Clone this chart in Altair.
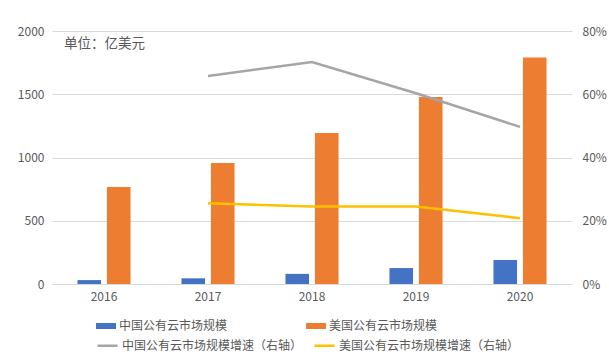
import altair as alt
import pandas as pd

years = ["2016", "2017", "2018", "2019", "2020"]
cn_size_name = "中国公有云市场规模"
us_size_name = "美国公有云市场规模"
cn_growth_name = "中国公有云市场规模增速（右轴）"
us_growth_name = "美国公有云市场规模增速（右轴）"
unit_label = "单位：亿美元"

china_size = [31, 45, 80, 126, 190]
us_size = [767, 957, 1194, 1478, 1790]

growth_years = ["2017", "2018", "2019", "2020"]
china_growth = [0.658, 0.702, 0.603, 0.497]
us_growth = [0.255, 0.245, 0.245, 0.208]

left_ticks = [0, 500, 1000, 1500, 2000]
right_ticks = [0, 0.2, 0.4, 0.6, 0.8]

FONT = "Noto Sans CJK SC"
TXT = "#595959"

bars_df = pd.DataFrame({
    "year": years * 2,
    "series": [cn_size_name] * len(years) + [us_size_name] * len(years),
    "value": china_size + us_size,
})
lines_df = pd.DataFrame({
    "year": growth_years * 2,
    "series": [cn_growth_name] * len(growth_years) + [us_growth_name] * len(growth_years),
    "growth": china_growth + us_growth,
})
unit_df = pd.DataFrame({"t": [unit_label]})

x_enc = alt.X(
    "year:N", sort=years,
    scale=alt.Scale(paddingInner=0, paddingOuter=0),
    axis=alt.Axis(title=None, labelAngle=0, ticks=False, domain=True,
                  domainColor="#D9D9D9", labelPadding=7, grid=False),
)

bars = alt.Chart(bars_df).mark_bar().encode(
    x=x_enc,
    xOffset=alt.XOffset("series:N", sort=[cn_size_name, us_size_name],
                        scale=alt.Scale(paddingInner=0.2, paddingOuter=0.864)),
    y=alt.Y("value:Q", scale=alt.Scale(domain=[0, 2000]),
            axis=alt.Axis(title=None, values=left_ticks, format="d", grid=True,
                          gridColor="#D9D9D9", domain=False, ticks=False, labelPadding=8)),
    color=alt.Color(
        "series:N", sort=[cn_size_name, us_size_name],
        scale=alt.Scale(domain=[cn_size_name, us_size_name], range=["#4472C4", "#ED7D31"]),
        legend=alt.Legend(title=None, orient="none", legendX=44, legendY=285, columns=2,
                          columnPadding=78, symbolType="M-1,-0.3H1V0.3H-1Z", symbolSize=400,
                          symbolStrokeWidth=0, labelOffset=3, padding=0, labelLimit=300),
    ),
)

lines = alt.Chart(lines_df).mark_line(strokeWidth=2.5).encode(
    x=x_enc,
    y=alt.Y("growth:Q", scale=alt.Scale(domain=[0, 0.8]),
            axis=alt.Axis(orient="right", format=".0%", values=right_ticks, grid=False,
                          domain=False, ticks=False, labelPadding=10, title=None)),
    stroke=alt.Stroke(
        "series:N", sort=[cn_growth_name, us_growth_name],
        scale=alt.Scale(domain=[cn_growth_name, us_growth_name], range=["#A5A5A5", "#FFC000"]),
        legend=alt.Legend(title=None, orient="none", legendX=44, legendY=303, columns=2,
                          columnPadding=6, symbolType="stroke", symbolSize=400,
                          symbolStrokeWidth=2.5, labelOffset=3, padding=0, labelLimit=300),
    ),
)

unit = alt.Chart(unit_df).mark_text(
    align="left", baseline="middle", fontSize=13.5, font=FONT, color=TXT
).encode(x=alt.value(12), y=alt.value(13), text="t:N")

chart = alt.layer(bars, lines, unit).resolve_scale(y="independent").properties(
    width=520, height=253,
    autosize=alt.AutoSizeParams(type="none"),
    padding={"left": 52, "top": 31, "right": 37, "bottom": 72},
).configure_view(stroke=None).configure_axis(
    labelFont=FONT, labelFontSize=12, labelColor=TXT
).configure_legend(
    labelFont=FONT, labelFontSize=12, labelColor=TXT
)

chart.save("out.html", embed_options={"renderer": "svg", "actions": False})
